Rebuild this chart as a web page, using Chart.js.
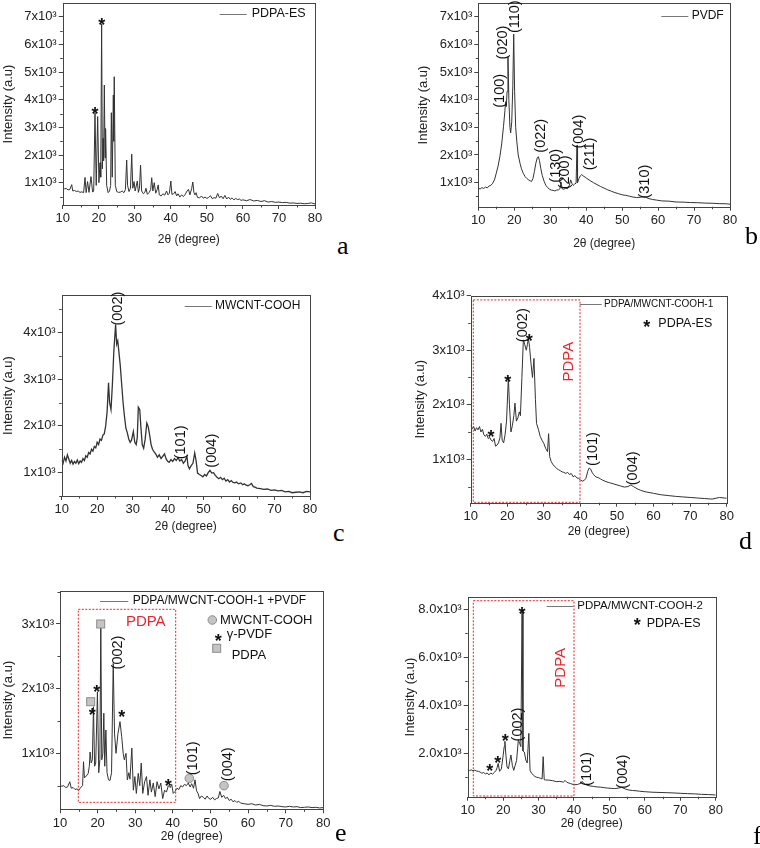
<!DOCTYPE html>
<html lang="en">
<head>
<meta charset="UTF-8">
<title>XRD patterns a-f</title>
<style>
  html, body { margin: 0; background: #fff; }
  body { width: 760px; height: 848px; position: relative; overflow: hidden; }
  canvas { position: absolute; }
  .tag { position: absolute; font: 26px "Liberation Serif", "Times New Roman", serif; line-height: 26px; color: #000; }
</style>
<script src="https://cdn.jsdelivr.net/npm/chart.js@4/dist/chart.umd.js"></script>
</head>
<body>
<canvas id="pa"></canvas>
<canvas id="pb"></canvas>
<canvas id="pc"></canvas>
<canvas id="pd"></canvas>
<canvas id="pe"></canvas>
<canvas id="pf"></canvas>
<div class="tag" style="left:337px;top:233px">a</div>
<div class="tag" style="left:745px;top:223px">b</div>
<div class="tag" style="left:333px;top:520px">c</div>
<div class="tag" style="left:739px;top:528px">d</div>
<div class="tag" style="left:335px;top:820px">e</div>
<div class="tag" style="left:753px;top:823px">f</div>
<script>
// x axis (2theta) ticks, shared by all panels
const xTicks = [10, 20, 30, 40, 50, 60, 70, 80];

// a: PDPA-ES
const aX = [10,10.5,11,11.5,12,12.5,12.8,13.3,13.8,14.3,
  14.8,15.3,15.8,16.2,16.5,16.9,17.3,17.85,18.3,18.6,
  18.96,19.3,19.7,20.05,20.35,20.55,20.8,21.0,21.2,21.35,
  21.55,21.75,21.9,22.2,22.6,23.0,23.3,23.5,23.75,24.05,
  24.15,24.3,24.6,25.0,25.5,26.0,26.5,27.0,27.4,27.75,
  28.0,28.4,28.8,29.15,29.45,29.8,30.1,30.7,31.0,31.3,
  31.6,31.9,32.4,32.8,33.1,33.5,34.0,34.4,34.7,35.0,
  35.4,35.8,36.2,36.5,36.8,37.3,37.8,38.3,38.8,39.2,
  39.6,40.0,40.3,40.8,41.2,41.6,42.0,42.5,43.0,43.5,
  44.0,44.5,44.9,45.3,45.8,46.1,46.4,46.7,47.0,47.4,
  48,48.5,49,49.5,50,50.5,51,51.5,52,52.5,
  53,53.5,54,54.5,55,55.5,56,56.5,57,57.5,
  58,58.5,59,59.5,60,61,62,63,64,65,
  66,67,68,69,70,71,72,73,74,75,
  76,77,78,79,80];
const aY = [820,780,790,740,760,930,700,720,680,700,
  650,670,640,1190,640,1040,650,1220,660,700,
  3530,900,3390,1000,1720,1200,6740,1500,2600,1800,
  4530,1900,2960,900,640,700,900,3530,1200,4170,
  2500,4830,900,680,650,660,700,640,750,1820,
  900,680,800,2030,800,1040,700,1060,650,800,
  1640,700,600,650,800,580,650,750,1180,700,
  1000,620,750,920,560,520,600,550,700,560,
  620,1060,580,600,680,520,600,480,560,500,
  580,700,760,560,800,1025,650,560,640,470,
  450,520,440,480,430,470,530,420,460,440,
  610,450,520,420,540,410,480,400,450,380,
  430,390,410,360,380,350,390,340,360,320,
  350,300,320,290,300,280,290,260,270,250,
  260,240,250,270,230];
const aYTicks = [1000, 2000, 3000, 4000, 5000, 6000, 7000];
const aYLabels = ['1x10³', '2x10³', '3x10³', '4x10³', '5x10³', '6x10³', '7x10³'];

// b: PVDF
const bX = [10,10.5,11,11.5,12,12.5,13,13.5,14,14.5,
  15,15.5,16,16.5,17,17.4,17.6,17.8,18.0,18.25,
  18.5,18.8,19.0,19.3,19.6,19.85,20.1,20.4,20.7,21.1,
  21.6,22.0,22.5,23.0,23.5,24.0,24.5,24.8,25.2,25.6,
  26.0,26.4,26.7,27.0,27.4,27.8,28.3,28.8,29.3,29.8,
  30.3,30.8,31.3,31.8,32.3,32.7,33.0,33.3,33.8,34.3,
  34.8,35.3,35.7,36.0,36.4,36.8,37.2,37.45,37.6,38.0,
  38.4,38.75,39.2,39.7,40.2,41,42,43,44,45,
  46,47,48,49,50,51,52,53,54,55,
  55.7,56.5,57.5,58.5,59.5,61,63,65,67,69,
  71,73,75,77,79,80];
const bY = [800,770,820,790,840,810,880,900,980,1100,
  1340,1600,1940,2400,3020,3600,3930,3750,4300,5550,
  4000,3000,2800,3200,4500,6370,4300,3000,2500,2000,
  1700,1500,1340,1220,1150,1100,1060,1040,1150,1400,
  1700,1900,1940,1800,1500,1250,1050,900,820,760,
  730,720,700,730,740,780,1000,780,760,800,
  780,900,1100,980,900,950,980,2350,1000,1150,
  1250,1290,1240,1200,1150,1080,1000,930,860,800,
  740,690,640,600,560,540,510,480,460,470,
  490,470,420,390,370,340,330,300,295,280,
  275,260,255,240,235,220];
const bYTicks = [1000, 2000, 3000, 4000, 5000, 6000, 7000];
const bYLabels = ['1x10³', '2x10³', '3x10³', '4x10³', '5x10³', '6x10³', '7x10³'];

// c: MWCNT-COOH
const cX = [10,10.4,10.8,11.2,11.6,12,12.4,12.8,13.2,13.6,
  14,14.4,14.8,15.2,15.6,16,16.4,16.8,17.2,17.6,
  18,18.4,18.8,19.2,19.6,20,20.4,20.8,21.2,21.6,
  22,22.4,22.8,23.2,23.5,23.9,24.3,24.7,25.2,25.5,
  25.8,26.1,26.5,26.9,27.3,27.7,28.1,28.5,28.9,29.3,
  29.7,30.2,30.6,31.0,31.3,31.6,32.0,32.3,32.7,33.1,
  33.5,34.0,34.4,34.8,35.2,35.6,36.0,36.5,37.0,37.5,
  38.0,38.5,39.0,39.4,39.8,40.3,40.8,41.3,41.8,42.3,
  42.8,43.3,43.8,44.3,44.8,45.3,45.6,46.0,46.5,47.0,
  47.5,47.9,48.3,48.8,49.3,49.8,50.3,50.8,51.3,51.8,
  52.3,52.8,53.3,53.8,54.3,54.8,55.3,55.8,56.3,56.8,
  57.3,57.8,58.3,58.8,59.3,59.8,60.5,61,61.5,62,
  62.5,63,63.5,64,64.5,65,66,67,68,69,
  70,71,72,73,74,75,76,77,78,79,
  80];
const cY = [1270,1200,1330,1250,1380,1290,1200,1260,1180,1240,
  1200,1270,1190,1250,1220,1300,1260,1360,1330,1430,
  1400,1500,1460,1560,1530,1650,1600,1720,1690,1800,
  1830,2000,2300,2920,2500,2350,2900,3600,4170,3750,
  3820,3600,3300,2900,2500,2200,1950,1850,1720,1650,
  1700,1880,1650,1600,1750,2400,2350,2000,1600,1520,
  1700,2060,1980,1800,1600,1500,1450,1400,1330,1380,
  1300,1350,1400,1300,1250,1220,1280,1240,1300,1260,
  1320,1250,1280,1200,1250,1350,1150,1080,1150,1200,
  1420,1250,990,960,940,910,960,930,1000,1050,
  990,1000,940,900,870,900,850,880,820,850,
  800,830,790,780,800,760,780,740,760,730,
  720,740,770,700,690,670,660,640,650,620,
  630,610,620,590,600,570,580,590,570,600,
  590];
const cYTicks = [1000, 2000, 3000, 4000];
const cYLabels = ['1x10³', '2x10³', '3x10³', '4x10³'];

// d: PDPA/MWCNT-COOH-1
const dX = [10,10.4,10.8,11.2,11.6,12,12.4,12.8,13.2,13.6,
  14,14.4,14.8,15.2,15.6,16,16.4,16.8,17.2,17.6,
  18.0,18.3,18.6,19.0,19.4,19.8,20.3,20.6,21.0,21.4,
  21.8,22.1,22.5,22.9,23.3,23.6,24.0,24.4,24.8,25.2,
  25.5,25.8,26.1,26.5,26.9,27.3,27.7,28.0,28.5,29.0,
  29.5,30.0,30.5,31.0,31.3,31.6,32.0,32.5,33.0,33.5,
  34.0,34.5,35.0,35.5,36.0,36.5,37.0,37.5,38.0,38.5,
  39.0,39.5,40.0,40.5,41.0,41.5,42.0,42.4,42.8,43.2,
  43.6,44.0,44.5,45.0,45.5,46.0,47,48,49,50,
  51,52,53,53.8,54.5,55.5,56.5,58,60,62,
  64,66,68,70,72,74,76,78,80];
const dY = [1630,1560,1600,1520,1580,1540,1600,1500,1550,1450,
  1420,1460,1380,1400,1350,1330,1380,1240,1260,1300,
  1400,1660,1350,1300,1450,1700,2510,2000,1500,1620,
  1800,2030,1700,1760,1870,1800,2500,3190,3100,3000,
  3100,3220,3050,2750,2500,2850,2100,1660,1550,1420,
  1350,1290,1200,1140,1470,1050,960,900,870,830,
  810,790,770,760,740,760,720,740,680,700,
  660,650,620,600,610,650,780,840,820,760,
  720,690,670,660,640,620,590,570,550,530,
  510,490,500,530,500,460,430,400,376,350,
  335,320,310,300,290,280,270,300,285];
const dYTicks = [1000, 2000, 3000, 4000];
const dYLabels = ['1x10³', '2x10³', '3x10³', '4x10³'];

// e: PDPA/MWCNT-COOH-1 +PVDF
const eX = [10,10.5,11,11.5,12,12.6,13,13.5,14,14.5,
  15,15.5,16,16.25,16.5,17,17.5,17.8,18.0,18.3,
  18.6,18.9,19.2,19.5,19.95,20.3,20.6,20.85,21.1,21.4,
  21.65,21.9,22.2,22.5,22.9,23.3,23.7,24.15,24.5,24.9,
  25.4,25.95,26.4,26.8,27.1,27.55,27.9,28.3,28.6,29.1,
  29.5,29.9,30.3,30.8,31.2,31.6,32.0,32.5,33.0,33.4,
  33.9,34.3,34.8,35.3,35.8,36.3,36.8,37.3,37.8,38.3,
  38.8,39.3,39.7,40.1,40.6,41.1,41.6,42.1,42.6,43.1,
  43.6,44.1,44.6,45.0,45.5,45.9,46.3,46.7,47.1,47.6,
  48.1,48.6,49.1,49.6,50.1,50.6,51.1,51.6,52.1,52.5,
  53.0,53.5,54.0,54.5,55.0,55.5,56.0,56.5,57.0,57.5,
  58,59,60,61,62,63,64,65,66,67,
  68,69,70,71,72,73,74,75,76,77,
  78,79,80];
const eY = [510,490,500,470,480,560,460,470,440,450,
  430,470,500,870,620,650,690,800,1020,850,
  900,1720,800,850,1950,700,900,3000,900,1000,
  1620,800,1360,700,590,580,700,2390,1300,1000,
  1300,1490,1260,1000,900,1000,590,700,600,1080,
  430,640,380,690,500,850,380,560,640,350,
  590,400,540,330,560,450,540,300,430,400,
  500,470,520,380,410,460,440,500,480,520,
  500,540,480,530,460,590,420,380,300,340,
  320,290,340,300,290,320,280,300,310,410,
  320,350,300,320,270,290,250,270,240,260,
  230,220,210,220,200,210,190,185,195,180,
  185,175,170,180,170,175,160,165,170,160,
  165,155,160];
const eYTicks = [1000, 2000, 3000];
const eYLabels = ['1x10³', '2x10³', '3x10³'];

// f: PDPA/MWCNT-COOH-2
const fX = [10,10.5,11,11.5,12,12.5,13,13.5,14,14.5,
  15,15.5,16,16.5,17,17.5,18,18.3,18.6,19.0,
  19.5,20.0,20.3,20.5,20.8,21.1,21.5,21.9,22.2,22.6,
  23.0,23.4,23.8,24.3,24.7,25.0,25.35,25.6,26.0,26.4,
  26.8,27.25,27.6,28.0,28.5,29.0,29.5,30.0,30.5,31.0,
  31.3,31.6,32.0,33.0,34.0,35.0,36.0,37.0,37.5,38.0,
  39.0,40.0,41.0,42.0,42.3,42.8,43.5,44.5,45.5,46.5,
  47.5,48.5,49.5,50.5,51.5,52.5,53.5,54.5,55.5,56.5,
  57.5,58.5,60,62,64,66,68,70,72,74,
  76,78,80];
const fY = [1330,1280,1310,1270,1300,1260,1250,1220,1170,1200,
  1140,1180,1100,1180,1130,1200,1290,1400,1580,1250,
  1350,1900,2280,2500,1900,1430,1350,1700,1930,1500,
  1290,1500,1700,2560,2400,2280,7970,2100,2050,1720,
  1600,2830,1290,1170,1100,1030,1000,990,960,930,
  1860,900,890,880,860,820,830,800,870,790,
  740,690,700,760,830,740,680,640,620,600,
  590,570,550,540,530,550,580,510,470,450,
  440,420,400,380,370,360,350,333,320,310,
  290,280,263];
const fYTicks = [2000, 4000, 6000, 8000];
const fYLabels = ['2.0x10³', '4.0x10³', '6.0x10³', '8.0x10³'];

const FONT = '"Liberation Sans", Arial, sans-serif';
const RED = '#e8262d';

// annotations, placed in data units (2theta, intensity)
const aNotes = [{k:'star', x:18.96, y:3653}, {k:'star', x:20.82, y:6880}];
const bNotes = [
  {k:'t', t:'(100)', x:16.03, y:4321, rot:true}, {k:'t', t:'(020)', x:16.95, y:6067, rot:true},
  {k:'t', t:'(110)', x:20.2, y:7000, rot:true}, {k:'t', t:'(022)', x:27.44, y:2695, rot:true},
  {k:'t', t:'(130)', x:31.6, y:1611, rot:true}, {k:'t', t:'(200)', x:34.1, y:1369, rot:true},
  {k:'t', t:'(004)', x:38.09, y:2843, rot:true}, {k:'t', t:'(211)', x:41.06, y:2037, rot:true},
  {k:'t', t:'(310)', x:56.35, y:1036, rot:true}];
const cNotes = [
  {k:'t', t:'(002)', x:25.96, y:4508, rot:true}, {k:'t', t:'(101)', x:43.55, y:1647, rot:true},
  {k:'t', t:'(004)', x:52.46, y:1469, rot:true}];
const dNotes = [
  {k:'rect', x1:10.71, x2:39.89, y1:211, y2:3923},
  {k:'star', x:15.55, y:1488}, {k:'star', x:20.12, y:2505}, {k:'star', x:26.02, y:3250},
  {k:'t', t:'(002)', x:24.38, y:3459, rot:true}, {k:'t', t:'(101)', x:43.53, y:1189, rot:true},
  {k:'t', t:'(004)', x:54.46, y:835, rot:true},
  {k:'t', t:'PDPA', x:36.96, y:2791, rot:true, c:RED}];
const eNotes = [
  {k:'rect', x1:14.87, x2:40.76, y1:242, y2:3227},
  {k:'sq', x:20.82, y:3000}, {k:'sq', x:18.16, y:1798},
  {k:'star', x:18.59, y:1659}, {k:'star', x:19.75, y:2015}, {k:'star', x:26.4, y:1634}, {k:'star', x:38.8, y:561},
  {k:'ci', x:44.38, y:613}, {k:'ci', x:53.6, y:500},
  {k:'t', t:'(002)', x:25.5, y:2559, rot:true}, {k:'t', t:'(101)', x:45.28, y:923, rot:true},
  {k:'t', t:'(004)', x:54.6, y:831, rot:true},
  {k:'t', t:'PDPA', x:32.8, y:3035, c:RED}];
const fNotes = [
  {k:'rect', x1:11.58, x2:40.0, y1:221, y2:8358},
  {k:'star', x:25.33, y:8000}, {k:'star', x:20.61, y:2721}, {k:'star', x:18.47, y:1775}, {k:'star', x:16.2, y:1458},
  {k:'t', t:'(002)', x:24.2, y:3200, rot:true}, {k:'t', t:'(101)', x:43.58, y:1346, rot:true},
  {k:'t', t:'(004)', x:53.92, y:1233, rot:true},
  {k:'t', t:'PDPA', x:36.33, y:5563, rot:true, c:RED}];

// legend items, in px from the plot's top-left corner
const aLegend = [{k:'line', x:157, x2:184, y:11}, {k:'t', t:'PDPA-ES', x:189, y:11, s:12.5}];
const bLegend = [{k:'line', x:183, x2:210, y:12.7}, {k:'t', t:'PVDF', x:213.4, y:12.7, s:12}];
const cLegend = [{k:'line', x:123, x2:150, y:11}, {k:'t', t:'MWCNT-COOH', x:153.3, y:11, s:12}];
const dLegend = [{k:'line', x:109, x2:131, y:8.3}, {k:'t', t:'PDPA/MWCNT-COOH-1', x:133.3, y:8.3, s:10},
  {k:'star', x:176, y:27}, {k:'t', t:'PDPA-ES', x:187.6, y:27.6, s:12.5}];
const eLegend = [{k:'line', x:40, x2:68.3, y:9.7}, {k:'t', t:'PDPA/MWCNT-COOH-1 +PVDF', x:72.7, y:9.7, s:12},
  {k:'ci', x:152.3, y:29}, {k:'t', t:'MWCNT-COOH', x:160, y:29.5, s:13},
  {k:'star', x:158.3, y:45.7}, {k:'t', t:'γ-PVDF', x:166.7, y:43, s:13},
  {k:'sq', x:156.7, y:57.3}, {k:'t', t:'PDPA', x:171.7, y:64.7, s:13}];
const fLegend = [{k:'line', x:79, x2:105.6, y:8.4}, {k:'t', t:'PDPA/MWCNT-COOH-2', x:109.6, y:8.4, s:11.5},
  {k:'star', x:169.6, y:23.4}, {k:'t', t:'PDPA-ES', x:179, y:26, s:12.5}];

// page layout of each panel (plot box edges, title positions)
const panels = [
  {id:'pa', xs:aX, ys:aY, yMin:194, yMax:7495, yTicks:aYTicks, yLabels:aYLabels, notes:aNotes, legend:aLegend,
   L:62.7, R:315, T:3, B:205, yTitleX:8.3, xTitleY:240, colLeft:0},
  {id:'pb', xs:bX, ys:bY, yMin:130, yMax:7484, yTicks:bYTicks, yLabels:bYLabels, notes:bNotes, legend:bLegend,
   L:478.3, R:730, T:3.3, B:206.7, yTitleX:423.3, xTitleY:243.3, colLeft:400},
  {id:'pc', xs:cX, ys:cY, yMin:500, yMax:4800, yTicks:cYTicks, yLabels:cYLabels, notes:cNotes, legend:cLegend,
   L:61.7, R:310, T:295, B:496, yTitleX:8.3, xTitleY:526.7, colLeft:0, lw:1.3},
  {id:'pd', xs:dX, ys:dY, yMin:204, yMax:4000, yTicks:dYTicks, yLabels:dYLabels, notes:dNotes, legend:dLegend,
   L:470.7, R:726.7, T:295.7, B:502.7, yTitleX:420, xTitleY:531.7, colLeft:400},
  {id:'pe', xs:eX, ys:eY, yMin:134, yMax:3510, yTicks:eYTicks, yLabels:eYLabels, notes:eNotes, legend:eLegend,
   L:60, R:323.3, T:591, B:809.3, yTitleX:8.3, xTitleY:836.7, colLeft:0},
  {id:'pf', xs:fX, ys:fY, yMin:192, yMax:8500, yTicks:fYTicks, yLabels:fYLabels, notes:fNotes, legend:fLegend,
   L:467.7, R:715.7, T:597.3, B:796.7, yTitleX:410, xTitleY:823.3, colLeft:400}
];
const byId = {};

function minorOf(ticks, min, max) {
  const step = ticks[1] - ticks[0], out = [];
  for (let v = ticks[0] - step / 2; v <= max; v += step) if (v >= min) out.push(v);
  return out;
}

function drawStar(ctx, x, y) {
  ctx.font = 'bold 18px ' + FONT;
  ctx.textAlign = 'center'; ctx.textBaseline = 'alphabetic';
  ctx.fillStyle = '#111';
  ctx.fillText('*', x, y + 10.5);
}
function drawSquare(ctx, x, y) {
  ctx.fillStyle = '#c4c4c4'; ctx.strokeStyle = '#8c8c8c'; ctx.lineWidth = 1;
  ctx.fillRect(x - 4, y - 4, 8, 8); ctx.strokeRect(x - 4, y - 4, 8, 8);
}
function drawCircle(ctx, x, y) {
  ctx.fillStyle = '#c4c4c4'; ctx.strokeStyle = '#8c8c8c'; ctx.lineWidth = 1;
  ctx.beginPath(); ctx.arc(x, y, 4.3, 0, Math.PI * 2); ctx.fill(); ctx.stroke();
}

const decor = {
  id: 'decor',
  afterDatasetsDraw(chart) {
    const p = byId[chart.canvas.id];
    const ctx = chart.ctx, a = chart.chartArea, xs = chart.scales.x, ys = chart.scales.y;
    ctx.save();
    ctx.strokeStyle = '#444'; ctx.lineWidth = 1;
    ctx.strokeRect(Math.round(a.left) + 0.5, Math.round(a.top) + 0.5,
      Math.round(a.right) - Math.round(a.left), Math.round(a.bottom) - Math.round(a.top));
    ctx.beginPath();
    minorOf(xTicks, 10, 80).forEach(v => {
      const px = Math.round(xs.getPixelForValue(v)) + 0.5;
      ctx.moveTo(px, a.bottom); ctx.lineTo(px, a.bottom + 2.5);
    });
    minorOf(p.yTicks, p.yMin, p.yMax).forEach(v => {
      const py = Math.round(ys.getPixelForValue(v)) + 0.5;
      ctx.moveTo(a.left, py); ctx.lineTo(a.left - 2.5, py);
    });
    ctx.stroke();

    p.notes.forEach(n => {
      if (n.k === 'rect') {
        const x1 = xs.getPixelForValue(n.x1), x2 = xs.getPixelForValue(n.x2);
        const y1 = ys.getPixelForValue(n.y1), y2 = ys.getPixelForValue(n.y2);
        ctx.save();
        ctx.strokeStyle = RED; ctx.lineWidth = 1; ctx.setLineDash([2, 1.5]);
        ctx.strokeRect(x1, y2, x2 - x1, y1 - y2);
        ctx.restore();
        return;
      }
      const px = xs.getPixelForValue(n.x), py = ys.getPixelForValue(n.y);
      if (n.k === 'star') return drawStar(ctx, px, py);
      if (n.k === 'sq') return drawSquare(ctx, px, py);
      if (n.k === 'ci') return drawCircle(ctx, px, py);
      ctx.save();
      ctx.translate(px, py);
      if (n.rot) ctx.rotate(-Math.PI / 2);
      ctx.fillStyle = n.c || '#111';
      ctx.font = (n.c ? 15 : 14.5) + 'px ' + FONT;
      ctx.textAlign = 'center'; ctx.textBaseline = 'middle';
      ctx.fillText(n.t, 0, 0);
      ctx.restore();
    });

    p.legend.forEach(g => {
      const x = a.left + g.x, y = a.top + g.y;
      if (g.k === 'line') {
        ctx.strokeStyle = '#777'; ctx.lineWidth = 1;
        ctx.beginPath(); ctx.moveTo(x, Math.round(y) + 0.5); ctx.lineTo(a.left + g.x2, Math.round(y) + 0.5); ctx.stroke();
      } else if (g.k === 'star') drawStar(ctx, x, y);
      else if (g.k === 'sq') drawSquare(ctx, x, y);
      else if (g.k === 'ci') drawCircle(ctx, x, y);
      else {
        ctx.fillStyle = '#111'; ctx.font = g.s + 'px ' + FONT;
        ctx.textAlign = 'left'; ctx.textBaseline = 'middle';
        ctx.fillText(g.t, x, y);
      }
    });
    ctx.restore();
  }
};

panels.forEach(p => {
  byId[p.id] = p;
  const cv = document.getElementById(p.id);
  const cl = p.colLeft, ct = Math.floor(p.T - 12);
  const cw = Math.round(p.R + 16 - cl), ch = Math.round(p.xTitleY + 10 - ct);
  cv.width = cw; cv.height = ch;
  cv.style.left = cl + 'px'; cv.style.top = ct + 'px';
  const yW = p.L - cl, xH = ct + ch - p.B;
  new Chart(cv, {
    type: 'line',
    data: { datasets: [{
      data: p.xs.map((x, i) => ({x: x, y: p.ys[i]})),
      borderColor: '#333', borderWidth: p.lw || 1, pointRadius: 0, tension: 0, fill: false
    }] },
    options: {
      responsive: false, animation: false, devicePixelRatio: 1,
      layout: { padding: { top: p.T - ct, right: cl + cw - p.R, left: 0, bottom: 0 } },
      plugins: { legend: { display: false }, tooltip: { enabled: false } },
      scales: {
        x: {
          type: 'linear', min: 10, max: 80,
          afterBuildTicks: s => { s.ticks = xTicks.map(v => ({value: v})); },
          afterFit: s => { s.height = xH; },
          ticks: { font: { family: FONT, size: 13 }, color: '#222', padding: 2, autoSkip: false, maxRotation: 0 },
          grid: { drawOnChartArea: false, drawTicks: true, tickLength: 4, color: '#444' },
          border: { display: false },
          title: { display: true, text: '2θ (degree)', color: '#222', font: { family: FONT, size: 12 },
                   padding: { top: 0, bottom: ct + ch - p.xTitleY - 7.2 } }
        },
        y: {
          type: 'linear', min: p.yMin, max: p.yMax,
          afterBuildTicks: s => { s.ticks = p.yTicks.map(v => ({value: v})); },
          afterFit: s => { s.width = yW; },
          ticks: { font: { family: FONT, size: 13 }, color: '#222', padding: 2, autoSkip: false,
                   callback: (v, i) => p.yLabels[i] },
          grid: { drawOnChartArea: false, drawTicks: true, tickLength: 4, color: '#444' },
          border: { display: false },
          title: { display: true, text: 'Intensity (a.u)', color: '#222', font: { family: FONT, size: 13 },
                   padding: { top: p.yTitleX - cl - 7.8, bottom: 0 } }
        }
      }
    },
    plugins: [decor]
  });
});
</script>
</body>
</html>
